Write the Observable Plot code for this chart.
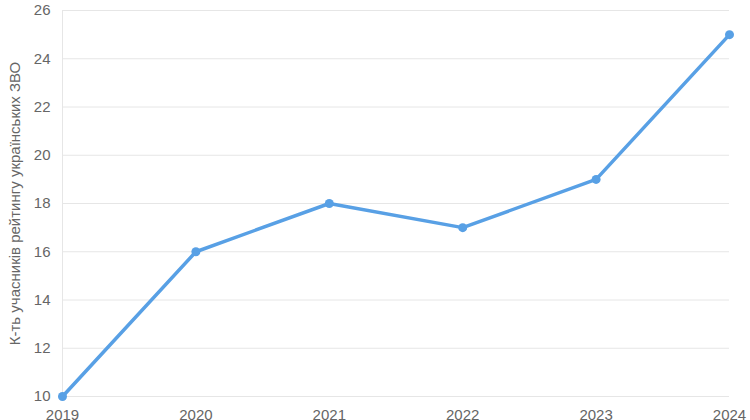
<!DOCTYPE html>
<html>
<head>
<meta charset="utf-8">
<script src="https://cdn.jsdelivr.net/npm/d3@7"></script>
<script src="https://cdn.jsdelivr.net/npm/@observablehq/plot@0.6"></script>
<style>
  html, body { margin: 0; padding: 0; background: #fff; overflow: hidden; }
  #chart svg { display: block; }
</style>
</head>
<body>
<div id="chart"></div>
<script>
const years = [2019, 2020, 2021, 2022, 2023, 2024];
const counts = [10, 16, 18, 17, 19, 25];
const yTicks = [10, 12, 14, 16, 18, 20, 22, 24, 26];
const yLabel = "К-ть учасників рейтингу українських ЗВО";

const data = years.map((y, i) => ({year: y, value: counts[i]}));

const chart = Plot.plot({
  width: 750,
  height: 420,
  marginLeft: 62,
  marginRight: 21,
  marginTop: 10,
  marginBottom: 24,
  style: {fontFamily: "'Liberation Sans', Arial, sans-serif", fontSize: "15px", color: "#666", background: "#fff"},
  x: {domain: [2019, 2024], ticks: years, tickFormat: d => String(d), label: null},
  y: {domain: [10, 26], ticks: yTicks, label: null},
  marks: [
    Plot.gridY(yTicks, {stroke: "#e6e6e6", strokeOpacity: 1, strokeWidth: 1}),
    Plot.ruleX([2019], {stroke: "#e6e6e6", strokeWidth: 1}),
    Plot.axisY({ticks: yTicks, tickSize: 0, tickPadding: 12, label: null, fill: "#666", fontSize: 15}),
    Plot.axisX({ticks: years, tickSize: 0, tickPadding: 13, label: null, tickFormat: d => String(d), fill: "#666", fontSize: 15}),
    Plot.text([yLabel], {frameAnchor: "left", dx: -47, rotate: -90, textAnchor: "middle", fill: "#666", fontSize: 15}),
    Plot.line(data, {x: "year", y: "value", stroke: "#58a0e5", strokeWidth: 3.5}),
    Plot.dot(data, {x: "year", y: "value", fill: "#58a0e5", r: 4.5})
  ]
});
document.getElementById("chart").appendChild(chart);
</script>
</body>
</html>
